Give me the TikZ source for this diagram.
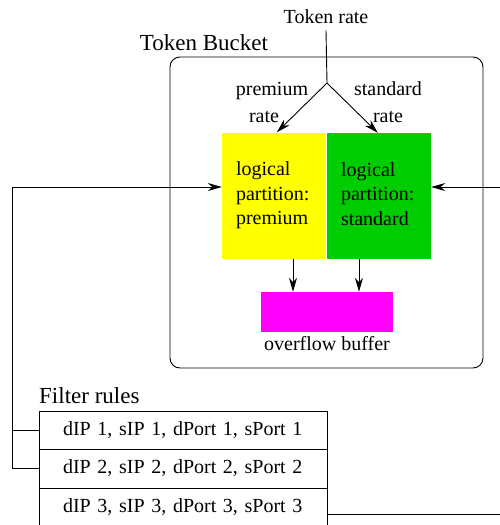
\documentclass[tikz,border=0pt]{standalone}
\usepackage{fontspec}
\setmainfont{Liberation Serif}
\usetikzlibrary{arrows.meta,calc}
\definecolor{partgreen}{RGB}{0,205,0}
\definecolor{bufmagenta}{RGB}{255,0,255}
\definecolor{partyellow}{RGB}{255,255,0}
\tikzset{
  wire/.style={line width=0.9pt},
  arr/.style={wire,-{Stealth[length=14pt,width=8pt,inset=4.5pt]}},
  txt/.style={font=\fontsize{20}{24}\selectfont, inner sep=0pt},
  big/.style={font=\fontsize{23}{27}\selectfont, inner sep=0pt},
  part/.style={minimum width=104pt, minimum height=126pt, inner xsep=14pt, inner ysep=0pt,
    text width=76pt, align=left, font=\fontsize{20}{24.5}\selectfont},
  rule/.style={draw, wire, minimum width=288pt, inner xsep=24pt, inner ysep=0pt,
    text width=240pt, align=left, font=\fontsize{20}{24}\selectfont}
}
\begin{document}
\begin{tikzpicture}[x=1pt, y=-1pt]
\useasboundingbox (0,0) rectangle (499,525);

% token bucket enclosure
\node[draw, wire, rounded corners=10pt, minimum width=313pt, minimum height=311pt] (bucket) at (326.5,212.5) {};
\node[big, anchor=base] (bucketlbl) at (204,50) {Token Bucket};

% incoming token rate and its split
\node[txt, anchor=base] (src) at (326,23) {Token rate};
\coordinate (split) at (327,83);
\draw[wire] ([yshift=-7pt]src.south) -- (split);

% logical partitions
\node[part, fill=partyellow] (prem) at (274,195.5) {logical\\partition:\\premium};
\node[part, fill=partgreen] (std) at (379,196) {logical\\partition:\\standard\vphantom{p}};

\node[txt, anchor=base] (premlbl) at (272,95) {premium};
\node[txt, anchor=base] (premlbl2) at (264,122) {rate};
\node[txt, anchor=base] (stdlbl) at (388,95) {standard};
\node[txt, anchor=base] (stdlbl2) at (388,122) {rate};

\path (prem.north west) ++(55,0) coordinate (pin);
\path (std.north west) ++(51,0) coordinate (sin);
\draw[arr] (split) -- (pin);
\draw[arr] (split) -- (sin);

% overflow buffer
\node[fill=bufmagenta, minimum width=132pt, minimum height=40pt, inner sep=0pt] (ovf) at (327,312) {};
\node[txt, anchor=base] (ovflbl) at (327,350) {overflow buffer};
\draw[arr] ([xshift=19pt]prem.south) -- ([xshift=19pt]prem.south |- ovf.north);
\draw[arr] ([xshift=-20pt]std.south) -- ([xshift=-20pt]std.south |- ovf.north);

% filter rules table
\node[big, anchor=base west] (filterlbl) at (39,403) {Filter rules};
\node[rule, minimum height=38pt] (row1) at (183,430) {dIP 1, sIP 1, dPort 1, sPort 1};
\node[rule, minimum height=39pt] (row2) at (183,468.5) {dIP 2, sIP 2, dPort 2, sPort 2};
\node[rule, minimum height=39pt] (row3) at (183,507.5) {dIP 3, sIP 3, dPort 3, sPort 3};

% rules 1 and 2 feed the premium partition
\coordinate (busL) at (12,187);
\coordinate (pinL) at (prem.west |- busL);
\draw[arr] (row2.west) -| (busL) -- (pinL);
\draw[wire] (row1.west) -- (row1.west -| busL);

% rule 3 feeds the standard partition
\coordinate (busR) at (506,187);
\coordinate (sinR) at (std.east |- busR);
\draw[arr] (busR) -- (sinR);
\coordinate (out3) at ($(row3.east)+(0,6.5)$);
\draw[wire] (out3) -- (out3 -| busR);
\end{tikzpicture}
\end{document}
